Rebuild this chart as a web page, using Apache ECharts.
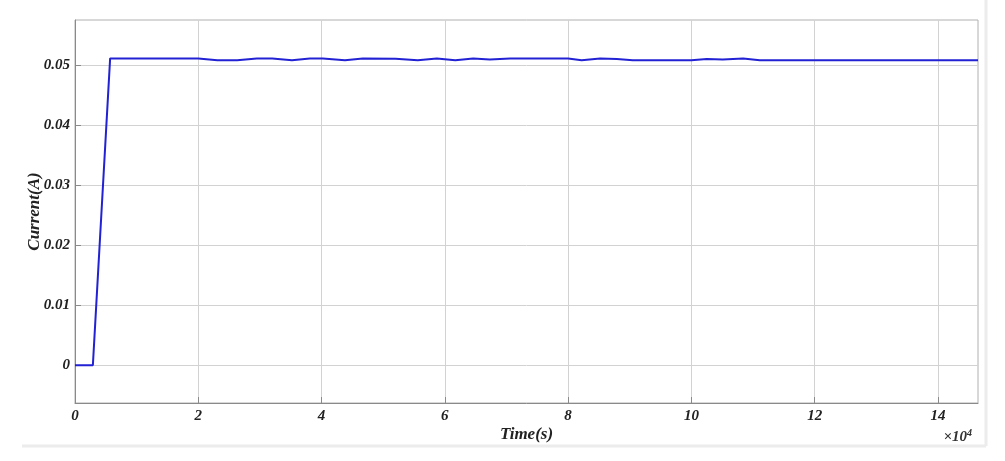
<!DOCTYPE html>
<html><head><meta charset="utf-8">
<script src="https://cdn.jsdelivr.net/npm/echarts@6/dist/echarts.min.js"></script>
<style>html,body{margin:0;padding:0;background:#fff}#c{width:1005px;height:461px}</style>
</head><body><div id="c"></div>
<script>
const timeValues = [0, 2900, 5700, 20000, 23100, 26300, 29500, 32000, 35200, 38100, 40200, 43800, 46700, 52000, 55600, 58700, 61700, 64600, 67300, 70600, 78700, 80000, 82200, 85200, 87900, 90500, 100000, 102500, 105100, 108400, 111100, 146500];
const currentValues = [0, 0, 0.0511, 0.0511, 0.0508, 0.0508, 0.0511, 0.0511, 0.0508, 0.0511, 0.0511, 0.0508, 0.0511, 0.05105, 0.0508, 0.0511, 0.0508, 0.0511, 0.0509, 0.0511, 0.0511, 0.0511, 0.0508, 0.0511, 0.0510, 0.0508, 0.0508, 0.0510, 0.0509, 0.0511, 0.0508, 0.0508];
const yTicks = [0, 0.01, 0.02, 0.03, 0.04, 0.05];
const xTicks = [0, 20000, 40000, 60000, 80000, 100000, 120000, 140000];
const xTickLabels = ['0', '2', '4', '6', '8', '10', '12', '14'];

const font = 'Liberation Serif';
const chart = echarts.init(document.getElementById('c'));
chart.setOption({
  animation: false,
  backgroundColor: '#fff',
  grid: { left: 75, right: 27, top: 20, bottom: 58, show: true, borderColor: '#b0b0b0', borderWidth: 1 },
  xAxis: {
    type: 'value', min: 0, max: 146500,
    axisLine: { show: true, onZero: false, lineStyle: { color: '#8a8a8a', width: 1 } },
    axisTick: { show: true, inside: true, length: 6, customValues: xTicks, lineStyle: { color: '#8a8a8a' } },
    splitLine: { show: true, customValues: xTicks, lineStyle: { color: '#d2d2d2', width: 1 } },
    axisLabel: { customValues: xTicks, color: '#222', fontFamily: font, fontStyle: 'italic', fontWeight: 'bold', fontSize: 15, margin: 6,
      formatter: v => xTickLabels[xTicks.indexOf(v)] ?? '' },
    name: 'Time(s)', nameLocation: 'middle', nameGap: 23, nameMoveOverlap: false,
    nameTextStyle: { color: '#222', fontFamily: font, fontStyle: 'italic', fontWeight: 'bold', fontSize: 17 }
  },
  yAxis: {
    type: 'value', min: -0.0063, max: 0.0575,
    axisLine: { show: true, onZero: false, lineStyle: { color: '#8a8a8a', width: 1 } },
    axisTick: { show: true, inside: true, length: 6, customValues: yTicks, lineStyle: { color: '#8a8a8a' } },
    splitLine: { show: true, customValues: yTicks, lineStyle: { color: '#d2d2d2', width: 1 } },
    axisLabel: { customValues: yTicks, color: '#222', fontFamily: font, fontStyle: 'italic', fontWeight: 'bold', fontSize: 15, margin: 5,
      formatter: v => String(+v.toFixed(2)) },
    name: 'Current(A)', nameLocation: 'middle', nameGap: 32, nameRotate: 90, nameMoveOverlap: false,
    nameTextStyle: { color: '#222', fontFamily: font, fontStyle: 'italic', fontWeight: 'bold', fontSize: 17 }
  },
  title: {
    text: '{a|×10}{b|4}', right: 28, top: 423,
    textStyle: { rich: {
      a: { fontFamily: font, fontStyle: 'italic', fontSize: 15, color: '#333', verticalAlign: 'bottom' },
      b: { fontFamily: font, fontStyle: 'italic', fontSize: 10, color: '#333', verticalAlign: 'top', padding: [0, 0, 7, 0] }
    } }
  },
  graphic: [
    { type: 'line', shape: { x1: 22, y1: 446, x2: 986, y2: 446 }, style: { stroke: '#ececec', lineWidth: 3 } },
    { type: 'line', shape: { x1: 986, y1: 0, x2: 986, y2: 446 }, style: { stroke: '#ececec', lineWidth: 3 } }
  ],
  series: [{
    type: 'line', showSymbol: false, symbol: 'none',
    data: timeValues.map((t, i) => [t, currentValues[i]]),
    lineStyle: { color: '#2222d4', width: 2 }
  }]
});
</script></body></html>
